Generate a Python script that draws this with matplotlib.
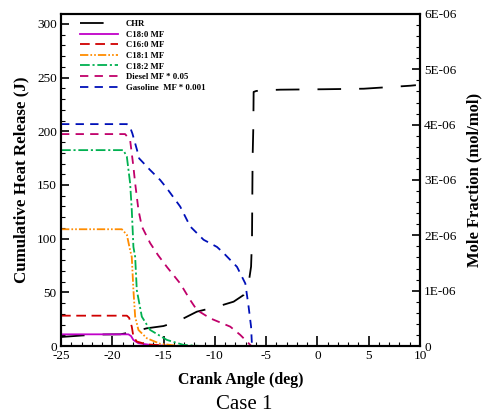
import matplotlib
matplotlib.use("Agg")
import matplotlib.pyplot as plt
from matplotlib.ticker import MultipleLocator

plt.rcParams['font.family'] = ['Liberation Serif', 'DejaVu Serif']
plt.rcParams['lines.scale_dashes'] = False
plt.rcParams['axes.unicode_minus'] = False

# ---------------- data ----------------
# Cumulative heat release (J), left axis
chr_x = [-25, -22.95, -21.2, -19.2, -17.94, -16.63, -15.01, -13.70, -11.75, -9.79, -8.17,
         -7.20, -6.71, -6.47, -6.38, -6.32, -6.25, -6.22, -5.96, -5.24, -3.62, 0.62, 4.52, 9.08, 9.6]
chr_y = [8.4, 9.8, 10.7, 10.9, 13.3, 16.5, 18.6, 22.6, 32.0, 36.6, 41.3,
         47.5, 58.4, 73.9, 98.8, 175, 204, 236.7, 237.6, 238.2, 238.8, 239.2, 239.7, 242.5, 243.0]

# Mole fractions (mol/mol), right axis
c180_x = [-25, -18.43, -18.17, -17.94, -17.45, -16.31, -14.3, 10]
c180_y = [0.211e-6, 0.211e-6, 0.18e-6, 0.108e-6, 0.05e-6, 0.02e-6, 0.0, 0.0]

c160_x = [-25, -18.58, -18.36, -18.10, -17.94, -17.61, -16.63, -14.3, 10]
c160_y = [0.548e-6, 0.548e-6, 0.51e-6, 0.35e-6, 0.17e-6, 0.08e-6, 0.03e-6, 0.0, 0.0]

c181_x = [-25, -19.07, -18.58, -18.26, -18.10, -17.94, -17.77, -17.45, -16.63, -15.33, -13.4, 10]
c181_y = [2.11e-6, 2.11e-6, 2.01e-6, 1.73e-6, 1.61e-6, 1.01e-6, 0.53e-6, 0.29e-6, 0.14e-6, 0.04e-6, 0.0, 0.0]

c182_x = [-25, -18.92, -18.58, -18.26, -18.10, -17.94, -17.77, -17.61, -17.12, -16.31, -14.68, -13.06, -11.4, 10]
c182_y = [3.54e-6, 3.54e-6, 3.42e-6, 2.94e-6, 2.46e-6, 1.79e-6, 1.61e-6, 1.01e-6, 0.53e-6, 0.29e-6, 0.11e-6, 0.02e-6, 0.0, 0.0]

diesel_x = [-25, -18.75, -18.26, -17.94, -17.77, -17.45, -17.12, -16.31, -15.53, -14.68, -13.38,
            -12.40, -11.75, -10.45, -8.50, -7.52, -6.71, -6.45, 10]
diesel_y = [3.83e-6, 3.83e-6, 3.72e-6, 3.24e-6, 2.94e-6, 2.46e-6, 2.16e-6, 1.86e-6, 1.64e-6, 1.43e-6, 1.13e-6,
            0.83e-6, 0.65e-6, 0.50e-6, 0.35e-6, 0.20e-6, 0.05e-6, 0.0, 0.0]

gas_x = [-25, -18.58, -18.3, -18.04, -17.6, -17.38, -16.31, -15.33, -14.68, -13.38, -12.40, -11.10, -9.79,
         -9.15, -7.84, -7.03, -6.71, -6.47, -6.38, 10]
gas_y = [4.01e-6, 4.01e-6, 3.97e-6, 3.84e-6, 3.55e-6, 3.39e-6, 3.18e-6, 3.00e-6, 2.85e-6, 2.52e-6, 2.16e-6, 1.92e-6, 1.79e-6,
         1.68e-6, 1.43e-6, 1.13e-6, 0.71e-6, 0.35e-6, 0.0, 0.0]

labels = ['CHR', 'C18:0 MF', 'C16:0 MF', 'C18:1 MF', 'C18:2 MF', 'Diesel MF * 0.05', 'Gasoline  MF * 0.001']
colors = ['black', '#c000c8', '#d00000', '#ff8c00', '#00b050', '#c0006a', '#0010b8']

left_ticks = [0, 50, 100, 150, 200, 250, 300]
right_ticks = [0, 1e-6, 2e-6, 3e-6, 4e-6, 5e-6, 6e-6]
right_ticklabels = ['0', '1E-06', '2E-06', '3E-06', '4E-06', '5E-06', '6E-06']

# ---------------- figure ----------------
fig = plt.figure(figsize=(4.84, 4.15), dpi=100)
ax = fig.add_axes([61/484, 69/415, 359/484, 332/415])
ax2 = ax.twinx()

lw = 1.3
l0, = ax.plot(chr_x, chr_y, color=colors[0], lw=lw, dashes=(17, 13))
l1, = ax2.plot(c180_x, c180_y, color=colors[1], lw=lw, linestyle='-')
l2, = ax2.plot(c160_x, c160_y, color=colors[2], lw=lw, dashes=(7, 4))
l3, = ax2.plot(c181_x, c181_y, color=colors[3], lw=lw, dashes=(6, 1.5, 1.2, 1.5, 1.2, 1.5))
l4, = ax2.plot(c182_x, c182_y, color=colors[4], lw=lw, dashes=(7, 2, 1.5, 2))
l5, = ax2.plot(diesel_x, diesel_y, color=colors[5], lw=lw, dashes=(6, 4.5))
l6, = ax2.plot(gas_x, gas_y, color=colors[6], lw=lw, dashes=(6, 4.5))

ax.set_xlim(-25, 10)
ax.set_ylim(0, 309.3)
ax2.set_ylim(0, 6e-6)

ax.xaxis.set_major_locator(MultipleLocator(5))
ax.xaxis.set_minor_locator(MultipleLocator(1))
ax.set_yticks(left_ticks)
ax.yaxis.set_minor_locator(MultipleLocator(10))
ax2.set_yticks(right_ticks)
ax2.set_yticklabels(right_ticklabels)
ax2.yaxis.set_minor_locator(MultipleLocator(0.2e-6))

for a in (ax, ax2):
    a.tick_params(which='major', direction='in', length=6, width=1.2, labelsize=9.5, pad=3)
    a.tick_params(which='minor', direction='in', length=3, width=0.8)
    for s in a.spines.values():
        s.set_linewidth(1.5)
ax.tick_params(axis='x', which='major', length=7, pad=3)

ax.set_xlabel('Crank Angle (deg)', fontsize=11.4, fontweight='bold', labelpad=7)
ax.set_ylabel('Cumulative Heat Release (J)', fontsize=12.2, fontweight='bold', labelpad=5)
ax2.set_ylabel('Mole Fraction (mol/mol)', fontsize=12, fontweight='bold', labelpad=7)

fig.text(244/484, 1 - 404/415, 'Case 1', ha='center', va='center', fontsize=15)

leg = ax.legend([l0, l1, l2, l3, l4, l5, l6], labels, loc='upper left',
                bbox_to_anchor=(0.035, 1.0), frameon=False,
                prop={'size': 6.3, 'weight': 'bold'}, handlelength=4.4,
                handletextpad=0.9, labelspacing=0.28, borderpad=0.2)

fig.savefig('out.png', dpi=100)
